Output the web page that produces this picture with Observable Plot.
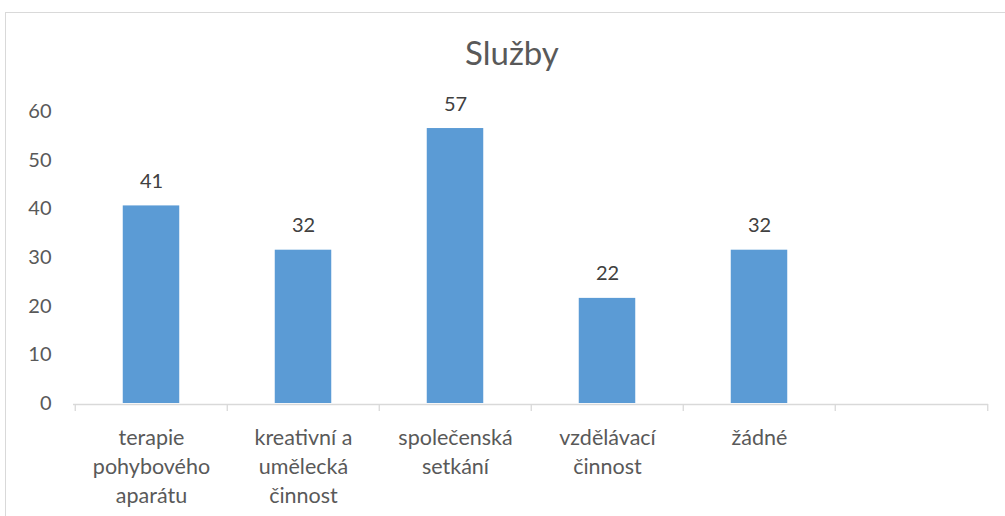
<!DOCTYPE html>
<html>
<head>
<meta charset="utf-8">
<script src="https://cdn.jsdelivr.net/npm/d3@7"></script>
<script src="https://cdn.jsdelivr.net/npm/@observablehq/plot@0.6"></script>
<style>
  html, body { margin: 0; padding: 0; background: #fff; overflow: hidden; }
  #wrap { position: relative; width: 1005px; height: 516px; }
  #frame { position: absolute; left: 5px; top: 12px; width: 1100px; height: 600px; border: 1px solid #d9d9d9; box-sizing: border-box; }
  #title { position: absolute; left: 362px; top: 32px; width: 300px; text-align: center; font-family: Lato, sans-serif; font-size: 33px; color: #595959; }
  #chart { position: absolute; left: 0; top: 0; }
</style>
</head>
<body>
<div id="wrap">
  <div id="frame"></div>
  <div id="chart"></div>
  <div id="title">Služby</div>
</div>
<script>
const categories = ["terapie pohybového aparátu", "kreativní a umělecká činnost", "společenská setkání", "vzdělávací činnost", "žádné", ""];
const tickLabels = ["terapie\npohybového\naparátu", "kreativní a\numělecká\nčinnost", "společenská\nsetkání", "vzdělávací\nčinnost", "žádné", ""];
const values = [40.6, 31.5, 56.5, 21.6, 31.5];
const valueLabels = ["41", "32", "57", "22", "32"];
const yTicks = [0, 10, 20, 30, 40, 50, 60];

const data = values.map((v, i) => ({cat: categories[i], value: v, label: valueLabels[i]}));
const labelOf = new Map(categories.map((c, i) => [c, tickLabels[i]]));

const W = 1005, H = 516, mL = 73, mR = 17, mT = 111, mB = 113;
const bw = (W - mL - mR) / categories.length;
const barW = 57;

const chart = Plot.plot({
  width: W,
  height: H,
  marginLeft: mL,
  marginRight: mR,
  marginTop: mT,
  marginBottom: mB,
  style: {fontFamily: "Lato, sans-serif", background: "transparent"},
  x: {domain: categories, padding: 0, label: null},
  y: {domain: [0, 60], label: null},
  marks: [
    Plot.barY(data, {x: "cat", y: "value", fill: "#5b9bd5", insetLeft: (bw - barW) / 2, insetRight: (bw - barW) / 2}),
    Plot.ruleY([0], {stroke: "#d9d9d9", strokeWidth: 1.3, dy: 1}),
    Plot.axisX({ticks: categories, label: null, tickSize: 7, tickFormat: () => "", stroke: "#d9d9d9", strokeWidth: 1.3, dx: -bw / 2, dy: 1}),
    Plot.axisX({ticks: [categories[categories.length - 1]], label: null, tickSize: 7, tickFormat: () => "", stroke: "#d9d9d9", strokeWidth: 1.3, dx: bw / 2, dy: 1}),
    Plot.axisX({ticks: categories, label: null, tickSize: 0, tickPadding: 21, tickFormat: d => labelOf.get(d), fontSize: 21.5, fill: "#595959", lineHeight: 1.35}),
    Plot.axisY({ticks: yTicks, label: null, tickSize: 0, tickPadding: 22, fontSize: 20, fill: "#595959"}),
    Plot.text(data, {x: "cat", y: "value", text: "label", lineAnchor: "bottom", dy: -18, fontSize: 20, fill: "#404040"})
  ]
});
document.getElementById("chart").appendChild(chart);
</script>
</body>
</html>
